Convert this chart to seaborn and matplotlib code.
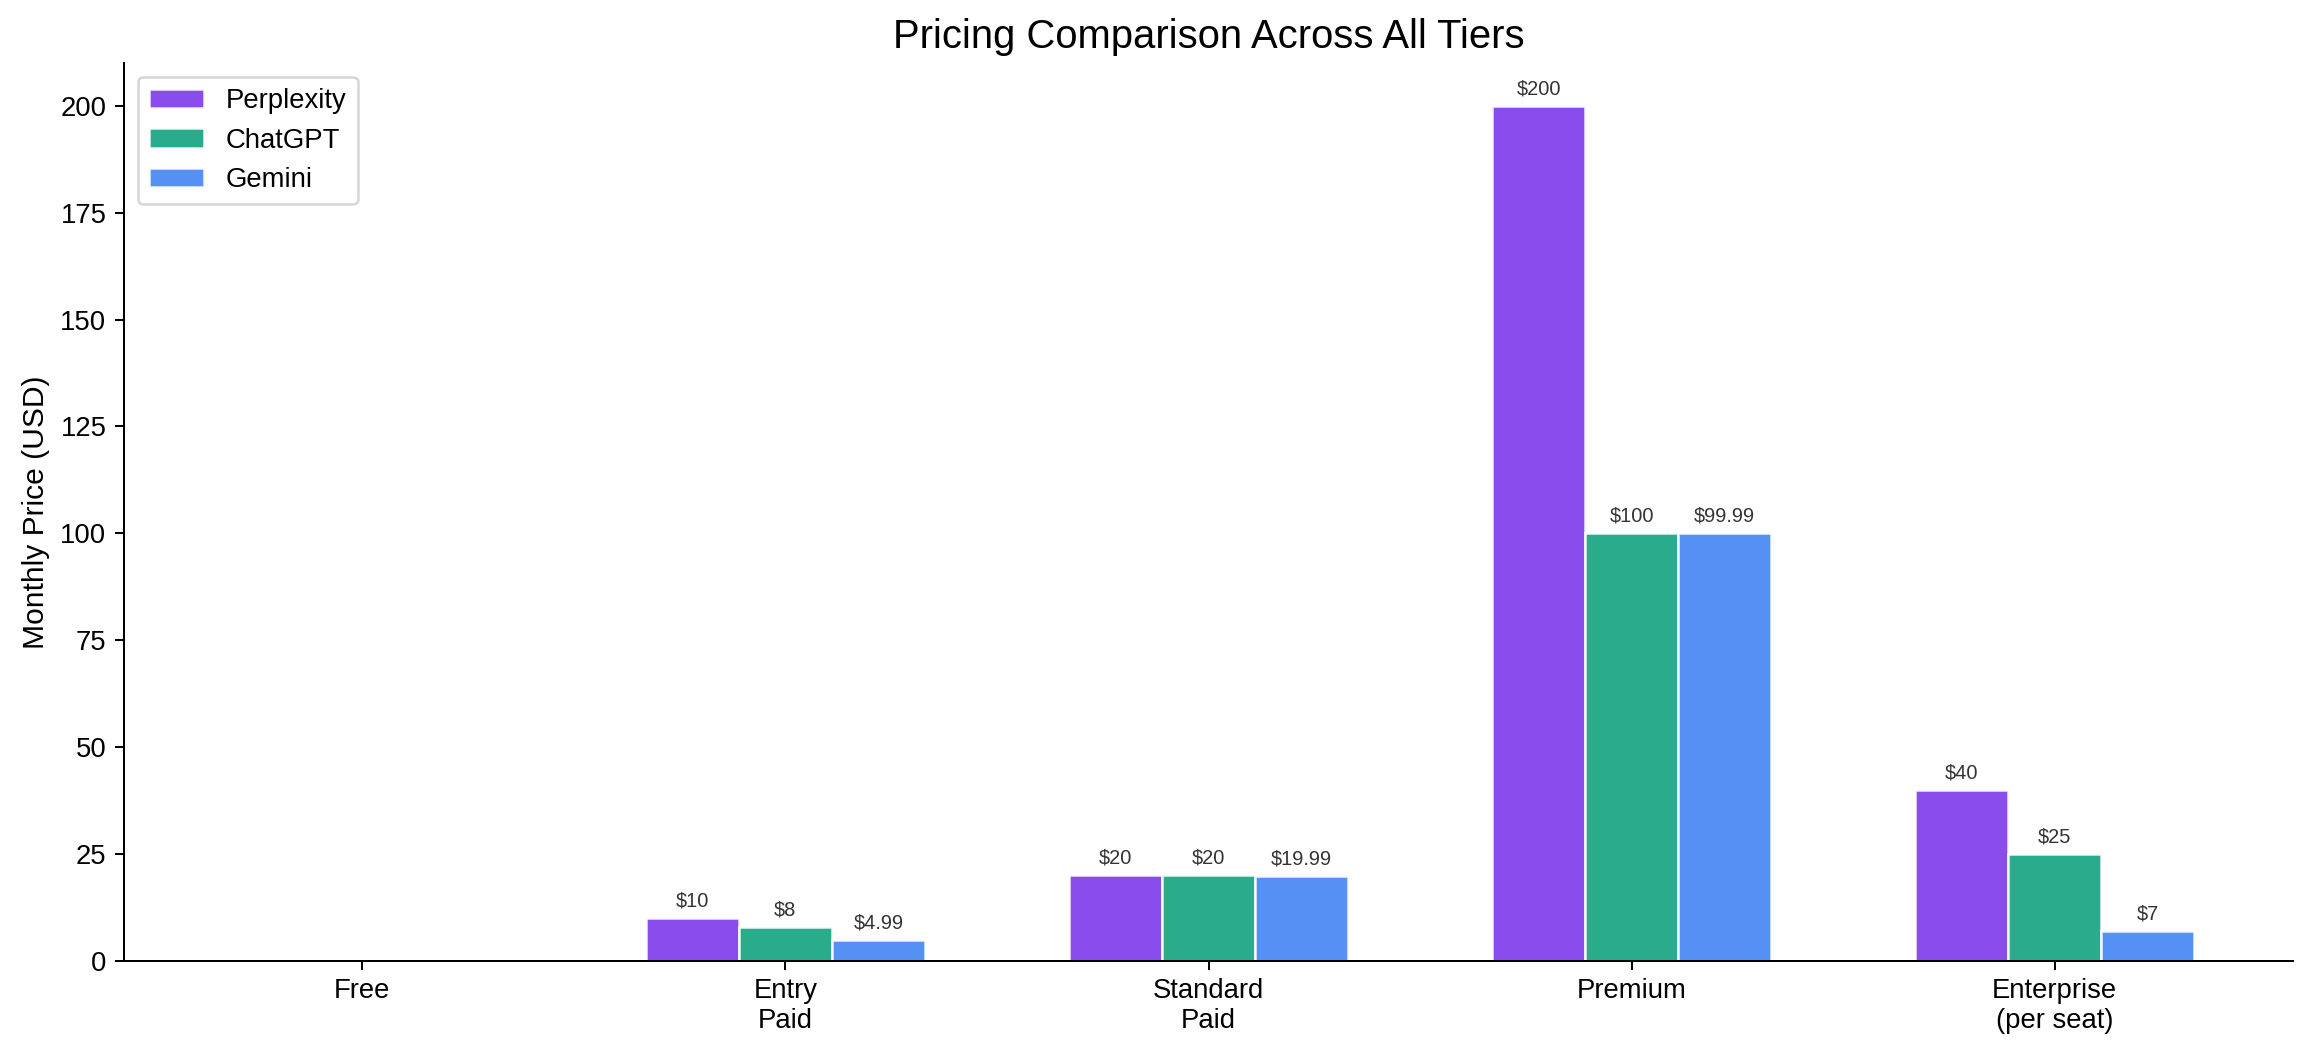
import numpy as np
import pandas as pd
import matplotlib
matplotlib.use("Agg")
import matplotlib.pyplot as plt
import seaborn as sns

tiers = ["Free", "Entry\nPaid", "Standard\nPaid", "Premium", "Enterprise\n(per seat)"]
services = ["Perplexity", "ChatGPT", "Gemini"]
perplexity = [0, 10, 20, 200, 40]
chatgpt = [0, 8, 20, 100, 25]
gemini = [0, 4.99, 19.99, 99.99, 7]
colors = ["#7C3AED", "#10A37F", "#4285F4"]

df = pd.DataFrame({
    "tier": tiers * 3,
    "service": [s for s in services for _ in tiers],
    "price": perplexity + chatgpt + gemini,
})

sns.set_style("ticks")
plt.rcParams["font.family"] = ["Liberation Sans", "DejaVu Sans"]
plt.rcParams["text.color"] = "black"
plt.rcParams["axes.labelcolor"] = "black"

fig, ax = plt.subplots(figsize=(2311 / 180, 1053 / 180), dpi=180)

sns.barplot(data=df, x="tier", y="price", hue="service", order=tiers,
            hue_order=services, palette=colors, width=0.66, saturation=1,
            alpha=0.9, edgecolor="white", linewidth=1, ax=ax)

def fmt(v):
    return f"${v:g}" if v != int(v) else f"${int(v)}"

for cont in ax.containers:
    labels = [fmt(b.get_height()) if b.get_height() > 0 else "" for b in cont]
    ax.bar_label(cont, labels=labels, padding=3, fontsize=8, color="#333333")

ax.set_xlim(-0.563, 4.563)
ax.set_ylim(0, 210)
ax.set_xlabel("")
ax.set_ylabel("Monthly Price (USD)", fontsize=12, color="black")
ax.set_title("Pricing Comparison Across All Tiers", fontsize=16, color="black")
ax.tick_params(labelsize=11, colors="black")
for s in ["left", "bottom"]:
    ax.spines[s].set_color("black")
sns.despine(ax=ax)
leg = ax.legend(loc="upper left", fontsize=11, frameon=True)
for t in leg.get_texts():
    t.set_color("black")

fig.subplots_adjust(left=124 / 2311, right=2293 / 2311, top=1 - 63 / 1053, bottom=1 - 961 / 1053)
fig.savefig("out.png", dpi=180)
